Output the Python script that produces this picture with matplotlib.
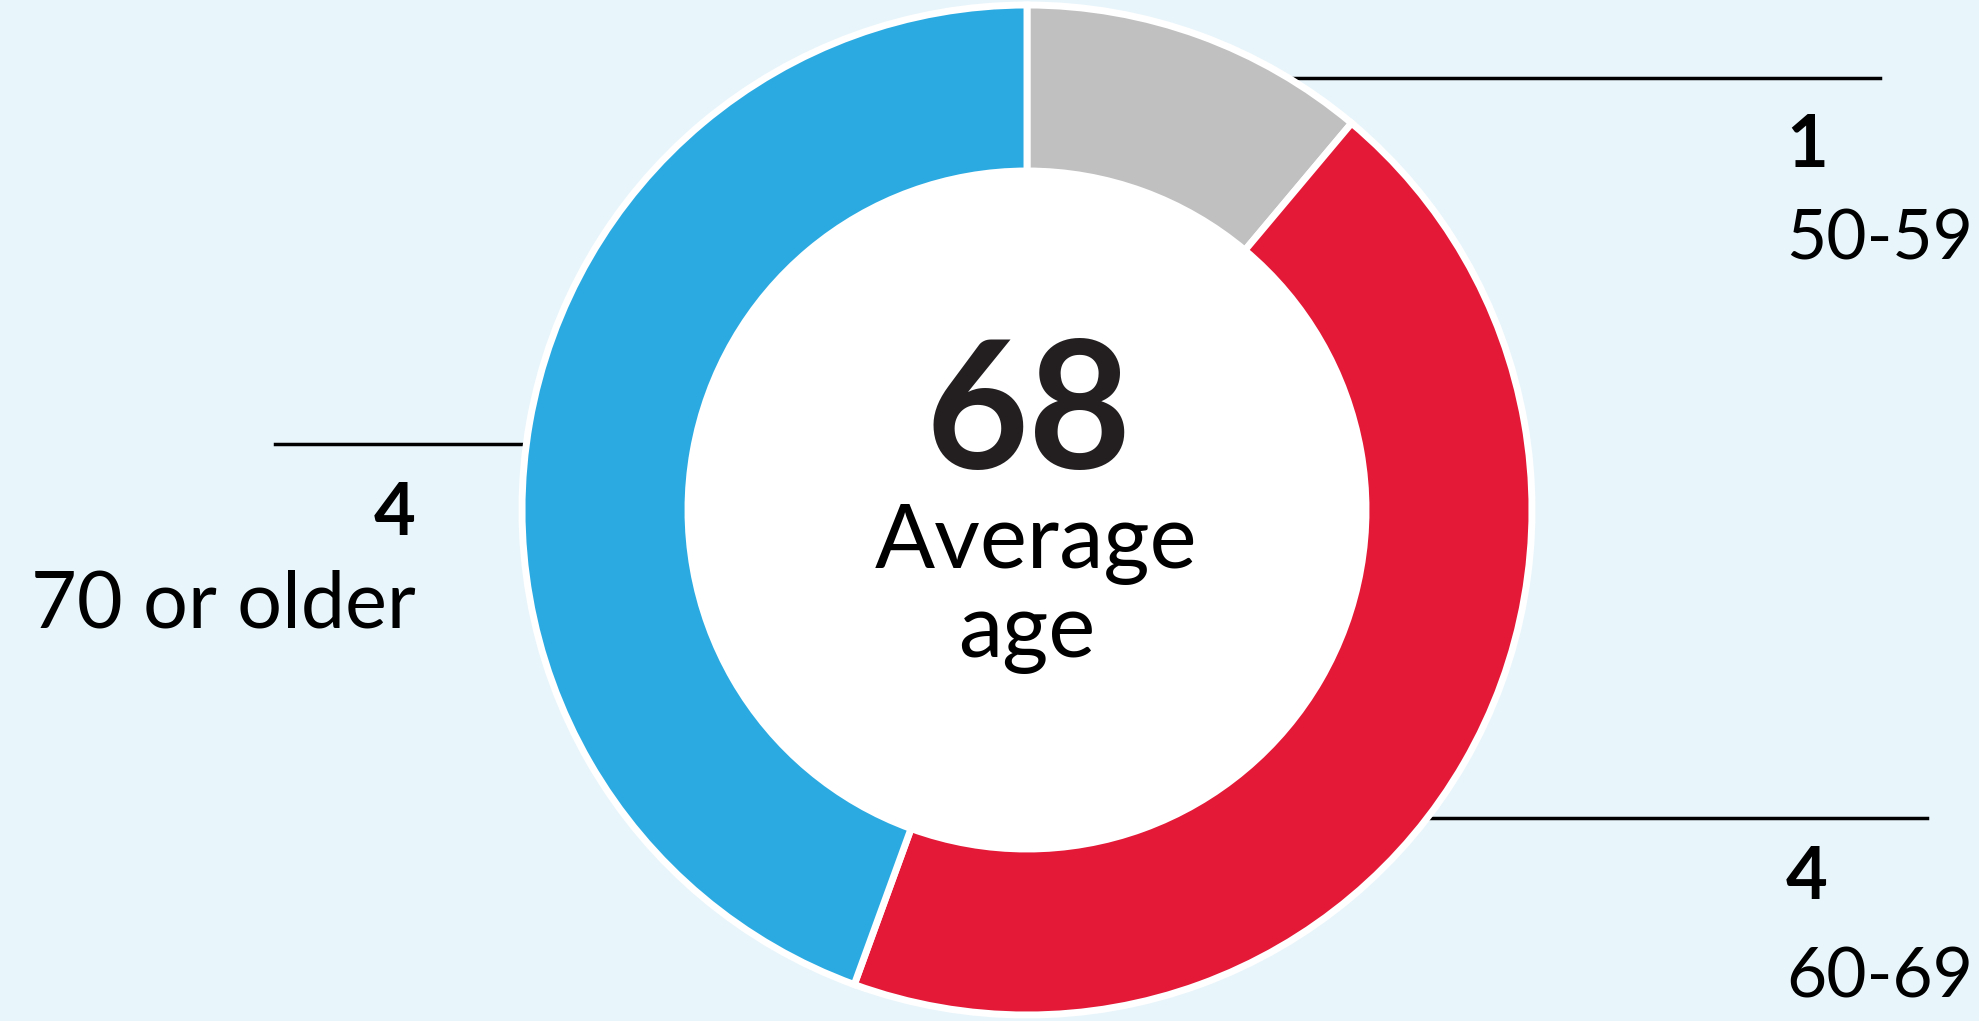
import matplotlib.pyplot as plt
from matplotlib.patches import Circle

# data
groups = ["50-59", "60-69", "70 or older"]
counts = [1, 4, 4]
colors = ["#C0C0C0", "#E31937", "#2BAAE2"]
avg_age = 68

W, H = 1979, 1021
bg = "#E8F5FB"

fig = plt.figure(figsize=(W / 100, H / 100), dpi=100, facecolor=bg)
ax = fig.add_axes([0, 0, 1, 1])

cx, cy = 1027, H - 510
r_out, r_in = 505, 339

ax.pie(counts, colors=colors, startangle=90, counterclock=False,
       center=(cx, cy), radius=r_out, frame=True,
       wedgeprops=dict(width=r_out - r_in, edgecolor="white", linewidth=5))
ax.add_patch(Circle((cx, cy), r_in, facecolor="white", edgecolor="none", zorder=3))
ax.set_xlim(0, W)
ax.set_ylim(0, H)
ax.set_aspect("equal")
ax.axis("off")

font = "Lato"

# center text
ax.text(cx + 2, H - 469, str(avg_age), ha="center", va="baseline", fontsize=128,
        fontweight="bold", family=font, color="#231F20", zorder=4)
ax.text(cx + 9, H - 568, "Average", ha="center", va="baseline", fontsize=64,
        family=font, zorder=4)
ax.text(cx + 0, H - 657, "age", ha="center", va="baseline", fontsize=64,
        family=font, zorder=4)

# leader lines (drawn behind the ring)
ax.plot([1250, 1880], [H - 78, H - 78], color="black", lw=2.5, zorder=0)
ax.plot([275, 600], [H - 444, H - 444], color="black", lw=2.5, zorder=0)
ax.plot([1350, 1927], [H - 818, H - 818], color="black", lw=2.5, zorder=0)

# labels
lab = [
    (1786, 167, 259, "left", 50, counts[0], groups[0]),
    (416, 535, 628, "right", 57, counts[2], groups[2]),
    (1786, 899, 997, "left", 50, counts[1], groups[1]),
]
for x, ynum, ygrp, ha, fs, n, g in lab:
    ax.text(x, H - ynum, str(n), ha=ha, va="baseline", fontsize=52,
            fontweight="bold", family=font)
    ax.text(x, H - ygrp, g, ha=ha, va="baseline", fontsize=fs,
            family=font)

fig.savefig("out.png", dpi=100, facecolor=bg)
